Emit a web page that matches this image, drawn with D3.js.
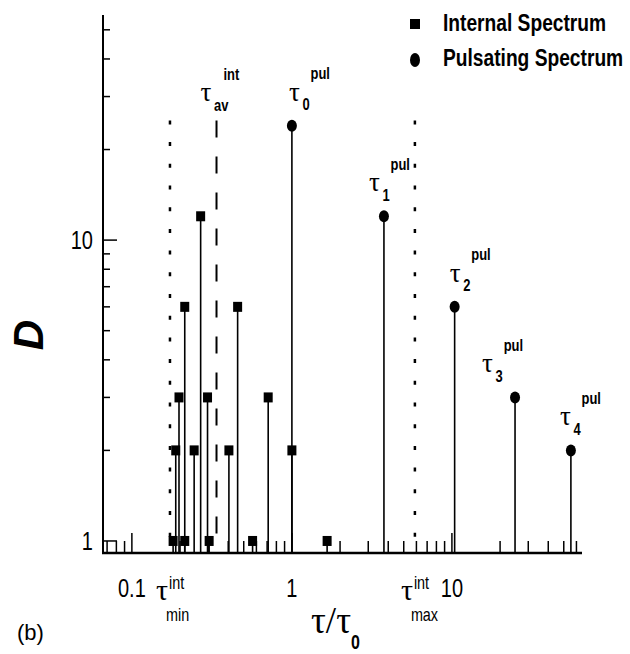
<!DOCTYPE html>
<html>
<head>
<meta charset="utf-8">
<script src="https://cdn.jsdelivr.net/npm/d3@7"></script>
<style>
  body { margin: 0; background: #fff; }
  .narrow { font-family: "Liberation Sans Narrow", "Arial Narrow", "Liberation Sans", sans-serif; }
  .greek { font-family: "Liberation Serif", "DejaVu Serif", serif; }
</style>
</head>
<body>
<script>
// internal spectrum: relaxation times (tau/tau0) and D
var intTau = [0.181, 0.188, 0.197, 0.214, 0.214, 0.245, 0.269, 0.297, 0.304, 0.404, 0.458, 0.568, 0.711, 1.0, 1.66];
var intD   = [1, 2, 3, 6, 1, 2, 12, 3, 1, 2, 6, 1, 3, 2, 1];

// pulsating spectrum
var pulTau = [1.0, 3.76, 10.4, 24.8, 55.4];
var pulD   = [24, 12, 6, 3, 2];
var pulIdx = ["0", "1", "2", "3", "4"];

// reference lines: tau_min, tau_av, tau_max of the internal spectrum
var refTau  = [0.173, 0.338, 5.87];
var refName = ["min", "av", "max"];
var refTop  = 25;

var xTicks = [0.1, 1, 10];
var yTicks = [1, 10];

var width = 630, height = 654;

var xScale = d3.scaleLog().domain([0.066, 65]).range([103, 582]);
var yScale = d3.scaleLog().domain([0.912, 56]).range([553, 15]);

var svg = d3.select("body").append("svg")
    .attr("width", width)
    .attr("height", height);

// minor ticks (log decades)
var xMinor = [], yMinor = [];
[0.01, 0.1, 1, 10].forEach(function(dec) {
  for (var k = 2; k <= 9; k++) {
    var v = dec * k;
    if (v > xScale.domain()[0] && v < xScale.domain()[1]) xMinor.push(v);
    if (v > yScale.domain()[0] && v < yScale.domain()[1]) yMinor.push(v);
  }
});

var axisG = svg.append("g").attr("stroke", "#000");

axisG.selectAll(".xminor").data(xMinor).enter().append("line")
    .attr("x1", function(d) { return xScale(d); })
    .attr("x2", function(d) { return xScale(d); })
    .attr("y1", 553).attr("y2", 541)
    .attr("stroke-width", 1.5);

axisG.selectAll(".xmajor").data(xTicks).enter().append("line")
    .attr("x1", function(d) { return xScale(d); })
    .attr("x2", function(d) { return xScale(d); })
    .attr("y1", 553).attr("y2", 533)
    .attr("stroke-width", 1.5);

axisG.selectAll(".yminor").data(yMinor).enter().append("line")
    .attr("x1", 103).attr("x2", 110)
    .attr("y1", function(d) { return yScale(d); })
    .attr("y2", function(d) { return yScale(d); })
    .attr("stroke-width", 1.5);

axisG.selectAll(".ymajor").data(yTicks).enter().append("line")
    .attr("x1", 103).attr("x2", 117)
    .attr("y1", function(d) { return yScale(d); })
    .attr("y2", function(d) { return yScale(d); })
    .attr("stroke-width", 1.5);

// axis lines
axisG.append("line")
    .attr("x1", 103).attr("x2", 103)
    .attr("y1", yScale.range()[1]).attr("y2", 553)
    .attr("stroke-width", 2);
axisG.append("line")
    .attr("x1", 102).attr("x2", xScale.range()[1])
    .attr("y1", 553).attr("y2", 553)
    .attr("stroke-width", 2.5);

// tick labels
svg.selectAll(".xlab").data(xTicks).enter().append("text")
    .attr("class", "narrow")
    .attr("x", function(d) { return xScale(d); })
    .attr("y", 597)
    .attr("text-anchor", "middle")
    .attr("font-size", 25)
    .text(function(d) { return d; });

svg.selectAll(".ylab").data(yTicks).enter().append("text")
    .attr("class", "narrow")
    .attr("x", 93)
    .attr("y", function(d) { return yScale(d) + 9; })
    .attr("text-anchor", "end")
    .attr("font-size", 25)
    .text(function(d) { return d; });

// reference lines
var refG = svg.append("g");
refG.selectAll("line").data(refTau).enter().append("line")
    .attr("x1", function(d) { return xScale(d); })
    .attr("x2", function(d) { return xScale(d); })
    .attr("y1", yScale(refTop))
    .attr("y2", 553)
    .attr("stroke", "#000")
    .attr("stroke-width", function(d, i) { return i == 1 ? 2 : 2.5; })
    .attr("stroke-dasharray", function(d, i) { return i == 1 ? "17,19" : "4,17.7"; });

// stems
svg.append("g").selectAll("line").data(intTau).enter().append("line")
    .attr("x1", function(d) { return xScale(d); })
    .attr("x2", function(d) { return xScale(d); })
    .attr("y1", 553)
    .attr("y2", function(d, i) { return yScale(intD[i]); })
    .attr("stroke", "#000").attr("stroke-width", 1.6);

svg.append("g").selectAll("line").data(pulTau).enter().append("line")
    .attr("x1", function(d) { return xScale(d); })
    .attr("x2", function(d) { return xScale(d); })
    .attr("y1", 553)
    .attr("y2", function(d, i) { return yScale(pulD[i]); })
    .attr("stroke", "#000").attr("stroke-width", 1.6);

// markers
svg.append("g").selectAll("rect").data(intTau).enter().append("rect")
    .attr("x", function(d) { return xScale(d) - 4.5; })
    .attr("y", function(d, i) { return yScale(intD[i]) - 5; })
    .attr("width", 9).attr("height", 10)
    .attr("fill", "#000");

svg.append("g").selectAll("ellipse").data(pulTau).enter().append("ellipse")
    .attr("cx", function(d) { return xScale(d); })
    .attr("cy", function(d, i) { return yScale(pulD[i]); })
    .attr("rx", 5).attr("ry", 6)
    .attr("fill", "#000");

// tau labels: tau with subscript and superscript
function tauLabel(g, x, y, sub, sup, size) {
  g.append("text").attr("class", "greek").attr("font-size", size)
      .attr("x", x).attr("y", y).text("\u03c4");
  g.append("text").attr("class", "narrow").attr("font-size", size * 0.6)
      .attr("font-weight", "bold")
      .attr("x", x + size * 0.5).attr("y", y + size * 0.35).text(sub);
  g.append("text").attr("class", "narrow").attr("font-size", size * 0.6)
      .attr("font-weight", "bold")
      .attr("x", x + size * 0.55 + (sub.length > 1 ? size * 0.3 : size * 0.25))
      .attr("y", y - size * 0.8)
      .text(sup);
}

var labG = svg.append("g");
pulTau.forEach(function(d, i) {
  var dx = [-3, -15, -5, -33, -11][i];
  tauLabel(labG, xScale(d) + dx, yScale(pulD[i]) - 25, pulIdx[i], "pul", 27);
});
tauLabel(labG, xScale(refTau[1]) - 16, yScale(refTop) - 19, refName[1], "int", 27);

// tau_min and tau_max labels in the tick label row
[0, 2].forEach(function(i) {
  var x0 = xScale(refTau[i]) - 14;
  labG.append("text").attr("class", "greek").attr("font-size", 30)
      .attr("x", x0).attr("y", 600).text("\u03c4");
  labG.append("text").attr("class", "narrow").attr("font-size", 18)
      .attr("x", x0 + 13).attr("y", 589).text("int");
  labG.append("text").attr("class", "narrow").attr("font-size", 18)
      .attr("x", x0 + 10).attr("y", 621).text(refName[i]);
});

// axis titles
svg.append("text").attr("class", "greek").attr("font-size", 38)
    .attr("x", 311).attr("y", 633)
    .attr("textLength", 40).attr("lengthAdjust", "spacingAndGlyphs")
    .text("\u03c4/\u03c4");
svg.append("text").attr("class", "narrow").attr("font-size", 20).attr("font-weight", "bold")
    .attr("x", 351).attr("y", 649).text("0");

svg.append("text")
    .attr("transform", "translate(43,335) rotate(-90)")
    .attr("text-anchor", "middle")
    .attr("font-family", "Liberation Sans, Arial, sans-serif")
    .attr("font-weight", "bold").attr("font-style", "italic")
    .attr("font-size", 42)
    .text("D");

svg.append("text")
    .attr("x", 17).attr("y", 640)
    .attr("font-family", "Liberation Sans, Arial, sans-serif")
    .attr("font-size", 22)
    .text("(b)");

// legend
var leg = svg.append("g");
leg.append("rect").attr("x", 410).attr("y", 19).attr("width", 10).attr("height", 10).attr("fill", "#000");
leg.append("ellipse").attr("cx", 415).attr("cy", 60).attr("rx", 5).attr("ry", 7).attr("fill", "#000");
leg.append("text").attr("class", "narrow").attr("font-weight", "bold").attr("font-size", 24)
    .attr("x", 443).attr("y", 31).text("Internal Spectrum");
leg.append("text").attr("class", "narrow").attr("font-weight", "bold").attr("font-size", 24)
    .attr("x", 443).attr("y", 66).text("Pulsating Spectrum");

// Arial Narrow is not available: squeeze the sans texts horizontally around their anchor
svg.selectAll("text.narrow").each(function() {
  var x = +this.getAttribute("x");
  d3.select(this).attr("transform",
      "translate(" + x + ",0) scale(0.8,1) translate(" + (-x) + ",0)");
});
</script>
</body>
</html>
